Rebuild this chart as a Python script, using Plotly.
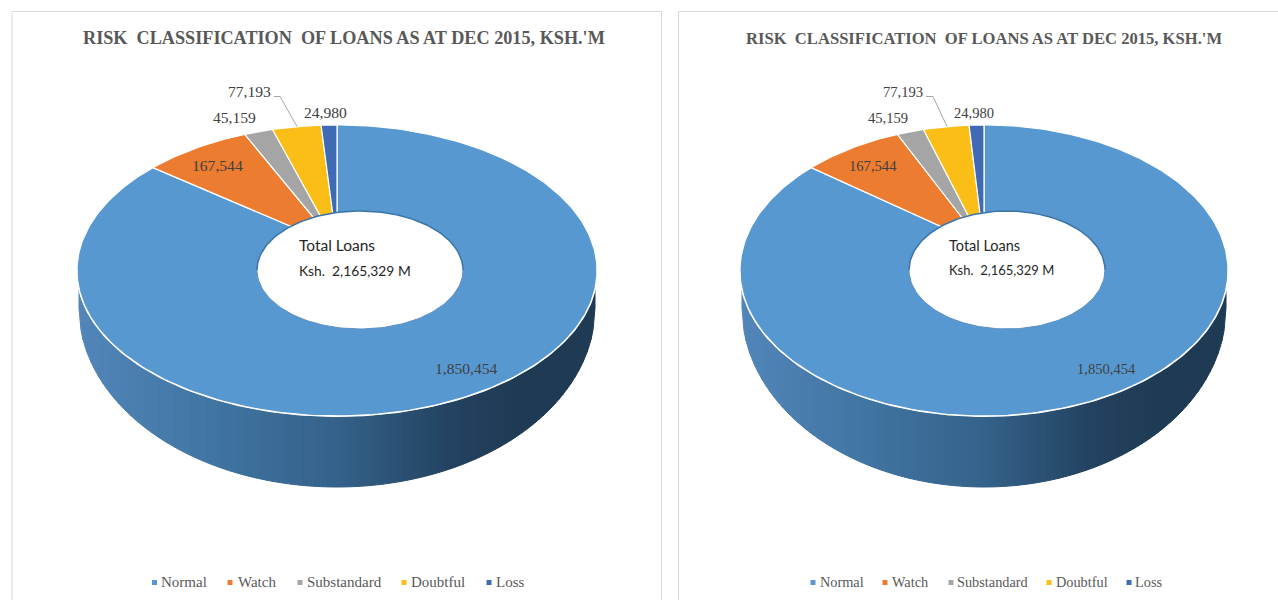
import numpy as np
import plotly.graph_objects as go

categories = ["Normal", "Watch", "Substandard", "Doubtful", "Loss"]
values = [1850454, 167544, 45159, 77193, 24980]
title_text = "RISK\u00a0\u00a0CLASSIFICATION\u00a0\u00a0OF LOANS AS AT DEC 2015, KSH.'M"
total_lines = ["Total Loans", "Ksh.\u00a0\u00a02,165,329 M"]
colors = ["#5898D1", "#EC7C30", "#A5A5A5", "#FBBE16", "#3E6BB4"]
side_stops = [(0.0, (82, 133, 185)), (0.25, (65, 117, 162)), (0.5, (52, 98, 138)),
              (0.72, (35, 66, 96)), (0.85, (31, 59, 84)), (1.0, (31, 59, 84))]
GREY = "#595959"
SERIF = "Liberation Serif"

panels = [
    dict(cx=337, rx=260, hx=360, hrx=103, title_x=343.5, title_size=18.2, label_size=15.6, total_sizes=(15.5, 13.8),
         total_x=298, leader=[(274, 96.5), (280, 96.5), (297, 126.5)],
         labels=[(434, 368.5), (191, 165.5), (212, 117.5), (227, 91.5), (303, 112.5)],
         legend=[(154.5, 160), (230, 237), (300, 306), (404, 410), (489, 495)], legend_size=15),
    dict(cx=984, rx=244, hx=1007, hrx=98, title_x=983.5, title_size=16.6, label_size=14.6, total_sizes=(14.5, 13),
         total_x=948, leader=[(926, 96.5), (933, 96.5), (947, 126.5)],
         labels=[(1076, 368.5), (848, 165.5), (867, 117.5), (882, 91.5), (953, 112.5)],
         legend=[(813, 819), (885, 891), (951, 956), (1049, 1055), (1129, 1134)], legend_size=14.3),
]

APEX_Y, K, B = 246, 0.168, 141.4
fig = go.Figure()


def poly(x, y, fill, line=None, width=0):
    fig.add_trace(go.Scatter(x=list(x), y=list(y), mode="lines", fill="toself", fillcolor=fill,
                             line=dict(color=line or fill, width=width), hoverinfo="skip", showlegend=False))


def rim(p, theta):
    a = p["rx"] * np.sqrt(1 - K ** 2)
    d = 1 + K * np.cos(theta)
    return p["cx"] + a * np.sin(theta) / d, APEX_Y - B * np.cos(theta) / d


def side_color(t):
    for (t0, c0), (t1, c1) in zip(side_stops, side_stops[1:]):
        if t <= t1:
            f = (t - t0) / (t1 - t0)
            return "rgb(%d,%d,%d)" % tuple(round(a + (b - a) * f) for a, b in zip(c0, c1))
    return "rgb(31,59,84)"


for p in panels:
    cx, rx = p["cx"], p["rx"]
    # side wall, shaded in thin vertical strips
    rxb, cyb, ryb = rx - 2, 308, 179
    edges = np.arange(cx - rxb, cx + rxb + 4, 4.0)
    edges[-1] = cx + rxb
    for x0, x1 in zip(edges, edges[1:]):
        xs = np.linspace(x0, x1, 3)
        ys = cyb + ryb * np.sqrt(np.clip(1 - ((xs - cx) / rxb) ** 2, 0, 1))
        poly([x0, *xs, x1, x0], [270, *ys, 270, 270], side_color((x0 - edges[0]) / (2 * rxb)), width=1)
    # white rim beneath the top surface
    t = np.linspace(0, 2 * np.pi, 361)
    rim_x, rim_y = rim(p, t)
    fig.add_trace(go.Scatter(x=rim_x, y=rim_y, mode="lines", line=dict(color="#ffffff", width=2),
                             hoverinfo="skip", showlegend=False))
    # slices
    total = sum(values)
    start = 0.0
    for v, c in zip(values, colors):
        sweep = 2 * np.pi * v / total
        t = np.linspace(start, start + sweep, max(int(v / total * 360), 2) + 1)
        xs, ys = rim(p, t)
        poly([cx, *xs, cx], [APEX_Y, *ys, APEX_Y], c, line="#ffffff", width=1.2)
        start += sweep
    # hole: white fill, dark upper edge, thin lighter lower edge
    t = np.linspace(0, 2 * np.pi, 181)
    poly(p["hx"] + p["hrx"] * np.cos(t), 270 + 59 * np.sin(t), "#ffffff", width=0)
    for t0, t1, col, w in ((np.pi, 2 * np.pi, "#3A74A8", 1.5), (0, np.pi, "#5A8FBF", 1)):
        t = np.linspace(t0, t1, 91)
        fig.add_trace(go.Scatter(x=p["hx"] + p["hrx"] * np.cos(t), y=270 + 59 * np.sin(t), mode="lines",
                                 line=dict(color=col, width=w), hoverinfo="skip", showlegend=False))
    # leader line
    fig.add_trace(go.Scatter(x=[q[0] for q in p["leader"]], y=[q[1] for q in p["leader"]], mode="lines",
                             line=dict(color="#A6A6A6", width=1), hoverinfo="skip", showlegend=False))
    # title
    fig.add_annotation(x=p["title_x"], y=38, text="<b>%s</b>" % title_text, showarrow=False, xanchor="center",
                       yanchor="middle", font=dict(family=SERIF, size=p["title_size"], color=GREY))
    # value labels
    for v, (lx, ly) in zip(values, p["labels"]):
        fig.add_annotation(x=lx, y=ly, text=f"{v:,}", showarrow=False, xanchor="left", yanchor="middle", xshift=-1,
                           font=dict(family=SERIF, size=p["label_size"], color="#404040"))
    # centre text
    for txt, ty, sz in zip(total_lines, (245, 270), p["total_sizes"]):
        fig.add_annotation(x=p["total_x"], y=ty, text=txt, showarrow=False, xanchor="left", yanchor="middle", xshift=-1,
                           font=dict(family="Lato", size=sz, color="#262626"))
    # legend
    fig.add_trace(go.Scatter(x=[q[0] for q in p["legend"]], y=[582.5] * 5, mode="markers",
                             marker=dict(symbol="square", size=5, color=colors), hoverinfo="skip", showlegend=False))
    for cat, (_, tx) in zip(categories, p["legend"]):
        fig.add_annotation(x=tx, y=582, text=cat, showarrow=False, xanchor="left", yanchor="middle", xshift=-1,
                           font=dict(family=SERIF, size=p["legend_size"], color=GREY))

# panel frames
frame = dict(color="#D9D9D9", width=1)
fig.add_shape(type="path", path="M 12 600 L 12 11.5 L 661.5 11.5 L 661.5 600", line=frame, layer="below")
fig.add_shape(type="path", path="M 678.5 600 L 678.5 11.5 L 1278 11.5", line=frame, layer="below")

fig.update_layout(width=1278, height=600, margin=dict(l=0, r=0, t=0, b=0), paper_bgcolor="white",
                  plot_bgcolor="white", showlegend=False,
                  xaxis=dict(range=[0, 1278], visible=False, fixedrange=True),
                  yaxis=dict(range=[600, 0], visible=False, fixedrange=True))
fig.write_html("out.html", config={"displayModeBar": False},
               post_script="document.body.style.margin='0';document.body.style.overflow='hidden';")
